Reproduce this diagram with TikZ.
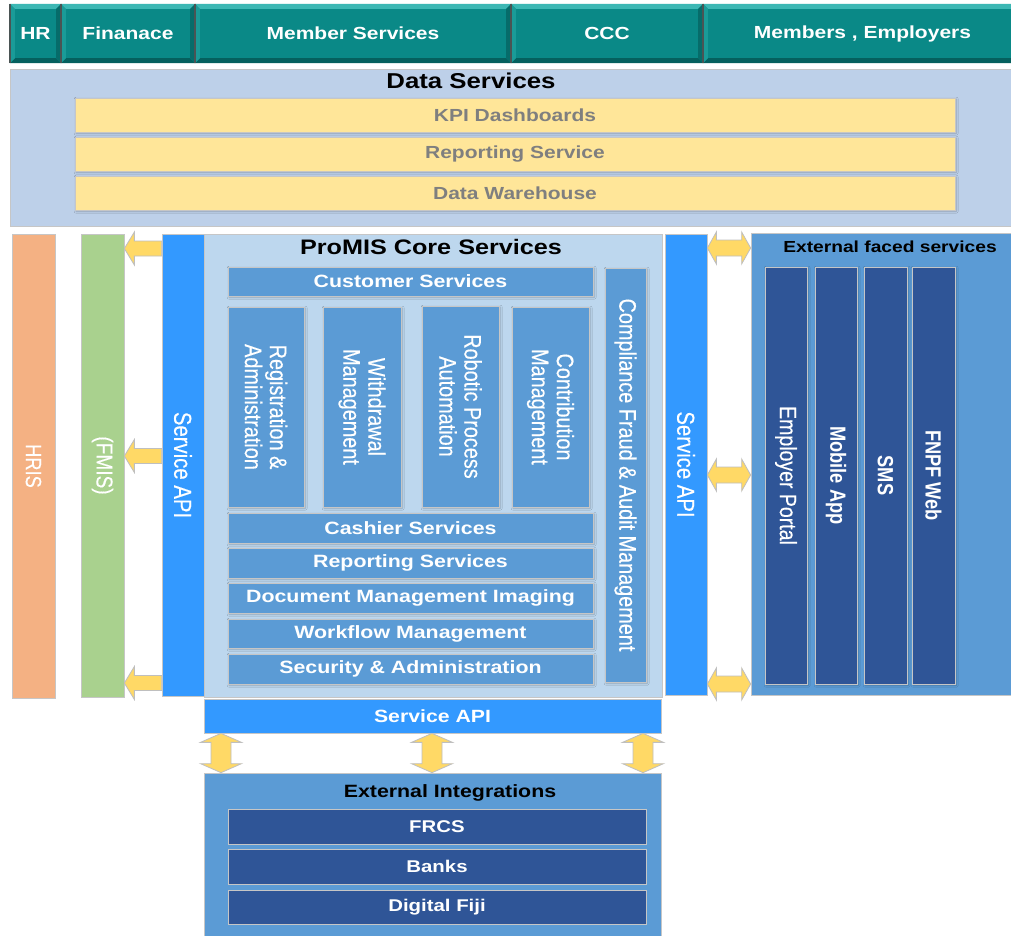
\documentclass[tikz,border=0pt]{standalone}
\usepackage{fontspec}
\setmainfont{Liberation Sans}
\newfontfamily\hf[FakeStretch=1.2]{Liberation Sans}
\newfontfamily\vf[FakeStretch=0.83,FakeBold=0.35]{Liberation Sans}
\newfontfamily\vbf[FakeStretch=0.83]{Liberation Sans}
\usetikzlibrary{calc,shadows.blur}

\definecolor{teal0}{HTML}{0A8987}
\definecolor{teallt}{HTML}{3CB7B4}
\definecolor{tealmd}{HTML}{1A9B98}
\definecolor{tealdk}{HTML}{05605E}
\definecolor{sepc}{HTML}{4A5454}
\definecolor{dsbg}{HTML}{BDD0E9}
\definecolor{ybar}{HTML}{FFE699}
\definecolor{ytext}{HTML}{7F7F7F}
\definecolor{hrisc}{HTML}{F4B183}
\definecolor{fmisc}{HTML}{A9D18E}
\definecolor{apic}{HTML}{3399FF}
\definecolor{corebg}{HTML}{BDD7EE}
\definecolor{midb}{HTML}{5B9BD5}
\definecolor{darkb}{HTML}{2F5597}
\definecolor{arrowy}{HTML}{FFD966}
\definecolor{edge}{HTML}{C6C6C6}

% horizontal block given by its corners (x1,y1) (x2,y2)
\newcommand\blkH[7][]{\node[box,#1,minimum width={#5-#3},minimum height={#6-#4}] (#2) at ({(#3+#5)/2},{(#4+#6)/2}) {#7};}
% vertical block, text running top to bottom (its north anchor faces right, south faces left)
\newcommand\blkV[7][]{\node[box,rotate=-90,#1,minimum width={#6-#4},minimum height={#5-#3}] (#2) at ({(#3+#5)/2},{(#4+#6)/2}) {#7};}

% bevelled tab of the top bar
\newcommand\seg[4]{%
  \node[seg,minimum width={#3-#2},minimum height=59] (#1) at ({(#2+#3)/2},33.5) {#4};
  \fill[teallt] (#1.north west) -- (#1.north east) -- ($(#1.north east)+(-5pt,-5pt)$) -- ($(#1.north west)+(5pt,-5pt)$) -- cycle;
  \fill[tealdk] (#1.south west) -- (#1.south east) -- ($(#1.south east)+(-5pt,5pt)$) -- ($(#1.south west)+(5pt,5pt)$) -- cycle;
  \fill[tealmd] (#1.north west) -- ($(#1.north west)+(5pt,-5pt)$) -- ($(#1.south west)+(5pt,5pt)$) -- (#1.south west) -- cycle;
  \fill[tealdk!70!teal0] (#1.north east) -- ($(#1.north east)+(-5pt,-5pt)$) -- ($(#1.south east)+(-5pt,5pt)$) -- (#1.south east) -- cycle;
  \draw[sepc,line width=1.6pt] (#1.north west) -- (#1.south west) (#1.north east) -- (#1.south east);
}

% block arrow pointing left: tip on the right side of vertical node #1, tail on the left side of vertical node #2
\newcommand\arrLeft[3]{%
  \coordinate (yy) at (0,#3);
  \coordinate (tp) at (#1.north |- yy);
  \coordinate (tl) at (#2.south |- yy);
  \draw[barrow] (tp) -- ++(10pt,16.5pt) -- ++(0pt,-9pt) -- ($(tl)+(0pt,7.5pt)$) -- ($(tl)+(0pt,-7.5pt)$)
    -- ($(tp)+(10pt,-7.5pt)$) -- ++(0pt,-9pt) -- cycle;
}
% horizontal double block arrow from the right side of vertical node #1 to node #2, at height #3
\newcommand\arrDouble[3]{%
  \coordinate (yy) at (0,#3);
  \coordinate (pa) at (#1.north |- yy);
  \coordinate (pb) at (#2.west |- yy);
  \draw[barrow] (pa) -- ++(9pt,16pt) -- ++(0pt,-8pt) -- ($(pb)+(-9pt,8pt)$) -- ++(0pt,8pt) -- (pb)
    -- ++(-9pt,-16pt) -- ++(0pt,8pt) -- ($(pa)+(9pt,-8pt)$) -- ++(0pt,-8pt) -- cycle;
}
% vertical double block arrow between node #1 (above) and node #2 (below) at abscissa #3
\newcommand\arrVert[3]{%
  \coordinate (xx) at (#3,0);
  \coordinate (pa) at (#1.south -| xx);
  \coordinate (pb) at (#2.north -| xx);
  \draw[barrow] (pa) -- ++(20.5pt,-9pt) -- ++(-10.5pt,0pt) -- ($(pb)+(10pt,9pt)$) -- ++(10.5pt,0pt) -- (pb)
    -- ++(-20.5pt,9pt) -- ++(10.5pt,0pt) -- ($(pa)+(-10pt,-9pt)$) -- ++(-10.5pt,0pt) -- cycle;
}

\begin{document}
\begin{tikzpicture}[x=1pt,y=-1pt,
  box/.style={draw=edge,line width=0.7pt,inner sep=0pt,align=center,text=white},
  sh/.style={blur shadow={shadow xshift=1.2pt,shadow yshift=-1.2pt,shadow blur radius=2pt,shadow opacity=25,shadow blur steps=6}},
  hb/.style={font={\hf\bfseries\fontsize{#1}{#1}\selectfont}},
  vr/.style={font={\vf\fontsize{#1}{25}\selectfont}},
  vb/.style={font={\vbf\bfseries\fontsize{#1}{25}\selectfont}},
  seg/.style={fill=teal0,inner sep=0pt,text=white,hb=17.5},
  barrow/.style={fill=arrowy,draw=black!25,line width=0.8pt,line join=miter},
]
\useasboundingbox (0,0) rectangle (1011,935);
\fill[white] (0,0) rectangle (1011,935);

% top bar of user groups
\seg{hr}{10}{61}{HR}
\seg{fin}{61}{195}{Finanace}
\seg{mem}{195}{511}{Member Services}
\seg{ccc}{511}{703}{CCC}
\seg{mre}{703}{1022}{Members , Employers}

% data services layer
\blkH[fill=dsbg]{ds}{10}{69}{1020}{226}{}
\node[hb=21.5,text=black] (dst) at (471,81) {Data Services};
\blkH[fill=ybar,sh,hb=17.5,text=ytext]{kpi}{75}{98}{955}{132}{KPI Dashboards}
\blkH[fill=ybar,sh,hb=17.5,text=ytext]{rep}{75}{137}{955}{171}{Reporting Service}
\blkH[fill=ybar,sh,hb=17.5,text=ytext]{dw}{75}{176}{955}{210}{Data Warehouse}

% left side systems
\blkV[fill=hrisc,vr=22]{hris}{12}{234}{55}{698}{HRIS}
\blkV[fill=fmisc,vr=23]{fmis}{81}{234}{124}{697}{(FMIS)}

% core services
\blkH[fill=corebg]{core}{204}{234}{662}{697}{}
\node[hb=21,text=black] (coret) at (431,247) {ProMIS Core Services};
\blkV[fill=apic,vr=24.5]{apil}{162}{234}{204}{696}{Service API}
\blkV[fill=apic,vr=24.5]{apir}{665}{234}{707}{695}{Service API}

\blkH[fill=midb,sh,hb=17.8]{cust}{228}{267}{593}{296}{Customer Services}
\blkV[fill=midb,sh,vr=23.9]{reg}{228}{307}{304}{507}{Registration \&\\Administration}
\blkV[fill=midb,sh,vr=23.9]{wdr}{323}{307}{401}{507}{Withdrawal\\Management}
\blkV[fill=midb,sh,vr=23.9]{rpa}{422}{306}{499}{507}{Robotic Process\\Automation}
\blkV[fill=midb,sh,vr=23.9]{con}{512}{307}{589}{507}{Contribution\\Management}
\blkH[fill=midb,sh,hb=17.8]{cash}{228}{513}{593}{543}{Cashier Services}
\blkH[fill=midb,sh,hb=17.8]{reps}{228}{548}{593}{578}{Reporting Services}
\blkH[fill=midb,sh,hb=17.8]{doc}{228}{583}{593}{613}{Document Management Imaging}
\blkH[fill=midb,sh,hb=17.8]{wf}{228}{619}{593}{648}{Workflow Management}
\blkH[fill=midb,sh,hb=17.8]{sec}{228}{654}{593}{684}{Security \& Administration}
\blkV[fill=midb,sh,vr=23.9]{cmp}{605}{268}{646}{682}{Compliance Fraud \& Audit Management}

\blkH[fill=apic,hb=17.7]{apib}{204}{699}{661}{733}{Service API}

% external faced services
\blkH[fill=midb]{ext}{751}{233}{1020}{695}{}
\node[hb=16,text=black] (extt) at (890,247) {External faced services};
\blkV[fill=darkb,sh,vr=23.5]{emp}{765}{267}{807}{684}{Employer Portal}
\blkV[fill=darkb,sh,vb=22]{mob}{815}{267}{857}{684}{Mobile App}
\blkV[fill=darkb,sh,vb=22]{sms}{864}{267}{907}{684}{SMS}
\blkV[fill=darkb,sh,vb=22]{web}{912}{267}{955}{684}{FNPF Web}

% external integrations
\blkH[fill=midb]{exti}{204}{773}{661}{945}{}
\node[hb=17.8,text=black] (extit) at (450,793) {External Integrations};
\blkH[fill=darkb,hb=17]{frcs}{228}{809}{646}{844}{FRCS}
\blkH[fill=darkb,hb=17]{bank}{228}{849}{646}{884}{Banks}
\blkH[fill=darkb,hb=17]{dfj}{228}{890}{646}{924}{Digital Fiji}

% data flows
\arrLeft{fmis}{apil}{248.5}
\arrLeft{fmis}{apil}{456}
\arrLeft{fmis}{apil}{683}
\arrDouble{apir}{ext}{248}
\arrDouble{apir}{ext}{475}
\arrDouble{apir}{ext}{684}
\arrVert{apib}{exti}{221}
\arrVert{apib}{exti}{432}
\arrVert{apib}{exti}{643}
\end{tikzpicture}
\end{document}
